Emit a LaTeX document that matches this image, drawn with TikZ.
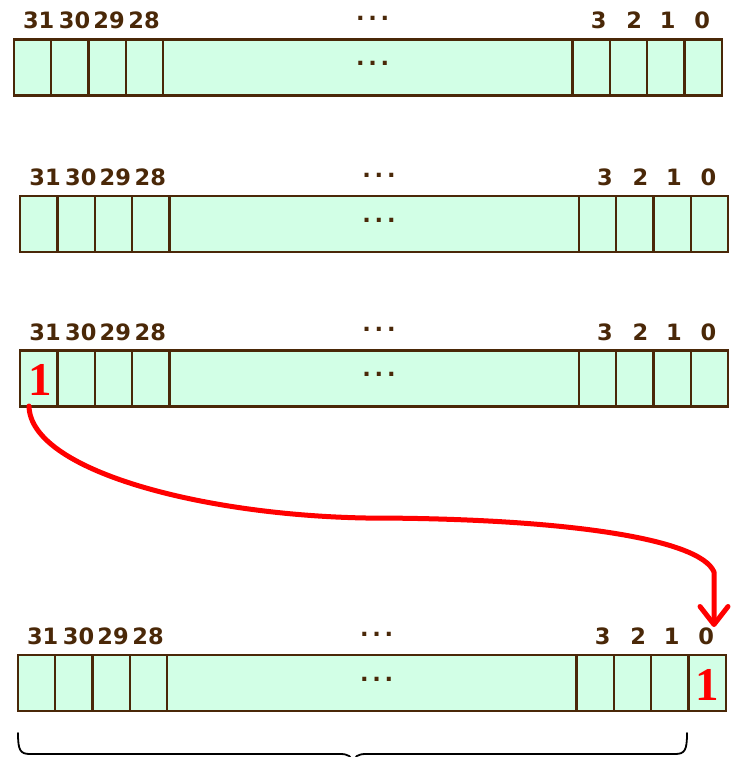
\documentclass[tikz,border=0pt]{standalone}
\usepackage{fontspec}
\setmainfont{DejaVu Sans}
\newfontfamily\numfont{DejaVu Sans Bold}
\newfontfamily\redfont{Liberation Serif}
\usetikzlibrary{arrows.meta}
\definecolor{cellfill}{RGB}{210,255,230}
\definecolor{edge}{RGB}{74,40,8}
\definecolor{shiftred}{RGB}{255,0,0}
\tikzset{
  cell/.style={draw=edge, fill=cellfill, line width=2.4pt, minimum height=56pt,
    inner sep=0pt, outer sep=0pt, anchor=north west},
  bitlbl/.style={text=edge, font=\numfont\fontsize{22.5}{22.5}\selectfont,
    inner sep=0pt, anchor=base},
  bitval/.style={text=shiftred, font=\redfont\bfseries\fontsize{47}{47}\selectfont,
    inner sep=0pt, anchor=base},
  shiftarrow/.style={draw=shiftred, line width=5pt, line cap=round, line join=round,
    -{Straight Barb[length=18pt,width=28pt,round]}},
  bracestroke/.style={draw=black, line width=1.8pt, line cap=round}
}
% one 32-bit register: name prefix, left edge, top edge
\newcommand\register[3]{%
  \begin{scope}[shift={(#2,#3)}]
    \foreach \xa/\xb/\nm in {0/37.3/b31, 37.3/74.7/b30, 74.7/112/b29, 112/149.3/b28,
        149.3/558.7/mid, 558.7/596/b3, 596/633.3/b2, 633.3/670.7/b1, 670.7/708/b0}
      \node[cell, minimum width={(\xb-\xa)*1pt}] (#1\nm) at (\xa,0) {};
    \foreach \xc/\txt in {25/31, 60.8/30, 95.3/29, 130.3/28, 585/3, 620.5/2, 654/1, 688.5/0}
      \node[bitlbl] (#1l\txt) at (\xc,-10.5) {\txt};
    \node[bitlbl] (#1ldots) at (359,-18.7) {.\,.\,.};
    \node[bitlbl] (#1mdots) at (359,26.3) {.\,.\,.};
  \end{scope}}
\begin{document}
\begin{tikzpicture}[x=1pt, y=-1pt]
  \useasboundingbox (0,0) rectangle (732,757);

  \register{ra}{13.7}{39.5}
  \register{rb}{20}{196}
  \register{rc}{20}{350.5}
  \register{rd}{17.7}{655}

  % the bit that moves
  \node[bitval] (one31) at (40,395) {1};
  \node[bitval] (one0) at (707,700) {1};

  % arrow from bit 31 round to bit 0
  \coordinate (arrS) at (29,406);
  \coordinate (arrE) at (714,627);
  \draw[shiftarrow] (arrS) .. controls (30,470) and (200,515) .. (366,518)
    .. controls (560,518) and (700,538) .. (714,572) -- (arrE);

  % brace under bits 31..1
  \draw[bracestroke] (18,733) .. controls (18,750) and (20,754) .. (30,754)
    -- (340,754) .. controls (348,754) and (352,756) .. (353,764)
    .. controls (354,756) and (358,754) .. (366,754)
    -- (675,754) .. controls (685,754) and (687,750) .. (687,733);
\end{tikzpicture}
\end{document}
